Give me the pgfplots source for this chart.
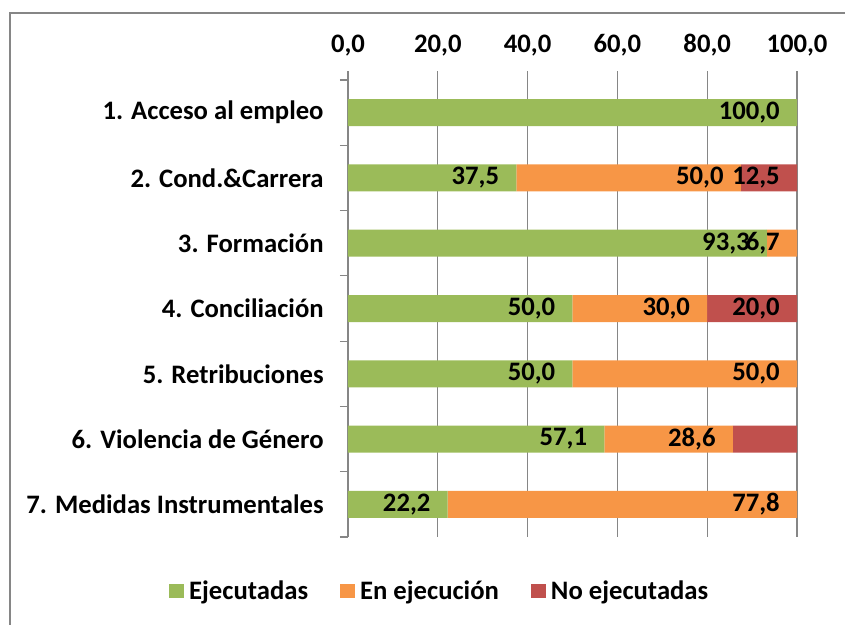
\documentclass[border=0pt]{standalone}
\usepackage{pgfplots}
\pgfplotsset{compat=1.18}
\usepackage{fontspec}
\setmainfont{Carlito}
\definecolor{cEje}{HTML}{9BBB59}
\definecolor{cEnE}{HTML}{F79646}
\definecolor{cNoE}{HTML}{C0504D}
\definecolor{gridgray}{HTML}{868686}
\newcommand\lblfont{\fontsize{20}{24}\selectfont\bfseries}
\begin{document}
\begin{tikzpicture}
\begin{axis}[
  scale only axis,
  width=336.75pt, height=342.75pt,
  xbar stacked, bar width=20.25pt,
  xmin=0, xmax=100, ymin=0.5, ymax=7.5, y dir=reverse,
  axis line style={draw=none},
  xtick={0,20,...,100},
  xtick pos=upper, xticklabel pos=upper,
  ytick={1,...,7}, ytick pos=left,
  yticklabels={1. Acceso al empleo, 2. Cond.\&Carrera, 3. Formación,
    4. Conciliación, 5. Retribuciones, 6. Violencia de Género,
    7. Medidas Instrumentales},
  minor ytick={0.5,1.5,...,7.5},
  tick align=outside,
  major tick length=6.75pt, minor tick length=6pt,
  every major y tick/.append style={draw=none},
  tick style={gridgray, line width=0.9pt},
  xmajorgrids, grid style={gridgray, line width=0.9pt},
  /pgf/number format/.cd, fixed, fixed zerofill, precision=1, use comma,
  assume math mode=true,
  /pgfplots/.cd,
  ticklabel style={font=\lblfont},
  xticklabel style={yshift=7.5pt},
  yticklabel style={xshift=-8pt},
  point meta=explicit symbolic,
  visualization depends on=rawx \as \rawx,
  nodes near coords={\pgfplotspointmeta},
  every node near coord/.style={anchor=east, inner sep=0pt,
    xshift=\rawx*1.68375pt-12.75pt, font=\lblfont, black},
  legend style={at={(0.205,-0.118)}, anchor=center, legend columns=3,
    draw=none, font=\lblfont,
    /tikz/every even column/.append style={column sep=22pt}},
  clip=false,
]
\addplot[fill=cEje, draw=none,
  legend image code/.code={\fill[cEje] (0pt,-5.25pt) rectangle (11pt,5.25pt);}]
  coordinates {(100,1) [100,0] (37.5,2) [37,5] (93.3,3) [93,3] (50,4) [50,0]
               (50,5) [50,0] (57.1,6) [57,1] (22.2,7) [22,2]};
\addlegendentry{\hspace{2pt}Ejecutadas}
\addplot[fill=cEnE, draw=none,
  legend image code/.code={\fill[cEnE] (0pt,-5.25pt) rectangle (11pt,5.25pt);}]
  coordinates {(0,1) [] (50,2) [50,0] (6.7,3) [6,7] (30,4) [30,0]
               (50,5) [50,0] (28.6,6) [28,6] (77.8,7) [77,8]};
\addlegendentry{\hspace{2pt}En ejecución}
\addplot[fill=cNoE, draw=none,
  legend image code/.code={\fill[cNoE] (0pt,-5.25pt) rectangle (11pt,5.25pt);}]
  coordinates {(0,1) [] (12.5,2) [12,5] (0,3) [] (20,4) [20,0]
               (0,5) [] (14.3,6) [] (0,7) []};
\addlegendentry{\hspace{2pt}No ejecutadas}
\draw[gridgray, line width=0.9pt] (rel axis cs:0,0) -- (rel axis cs:0,1);
\end{axis}
\path[use as bounding box] (-261pt,-65.25pt) rectangle (372.75pt,402.75pt);
\draw[gridgray, line width=1.5pt] (-253.5pt,-70pt) -- (-253.5pt,393pt) -- (380pt,393pt);
\end{tikzpicture}
\end{document}
